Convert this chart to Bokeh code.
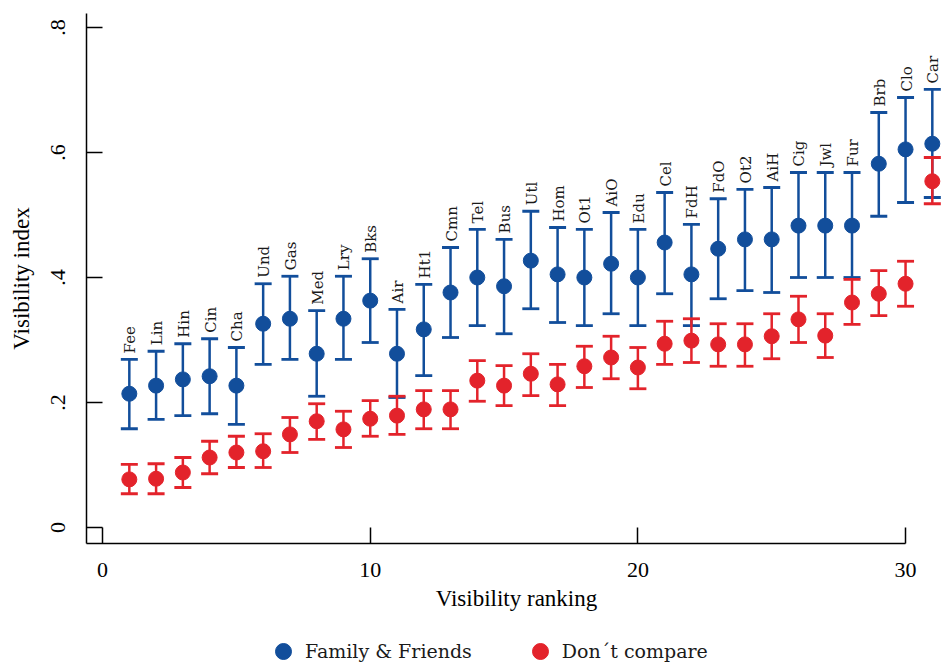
from math import pi
from bokeh.plotting import figure
from bokeh.layouts import column
from bokeh.models import (ColumnDataSource, Range1d, FixedTicker, Legend, LegendItem,
                          CustomJSTickFormatter)
from bokeh.core.properties import value
from bokeh.embed import file_html
from bokeh.resources import INLINE

categories = ["Fee", "Lin", "Hin", "Cin", "Cha", "Und", "Gas", "Med", "Lry", "Bks",
              "Air", "Ht1", "Cmn", "Tel", "Bus", "Utl", "Hom", "Ot1", "AiO", "Edu",
              "Cel", "FdH", "FdO", "Ot2", "AiH", "Cig", "Jwl", "Fur", "Brb", "Clo", "Car"]
ranking = list(range(1, 32))

ff_mean = [0.214, 0.227, 0.237, 0.242, 0.227, 0.326, 0.334, 0.278, 0.334, 0.363,
           0.278, 0.317, 0.376, 0.400, 0.386, 0.427, 0.405, 0.400, 0.422, 0.400,
           0.456, 0.405, 0.446, 0.461, 0.461, 0.483, 0.483, 0.483, 0.582, 0.605, 0.614]
ff_upper = [0.269, 0.282, 0.294, 0.302, 0.288, 0.390, 0.402, 0.347, 0.402, 0.430,
            0.349, 0.389, 0.448, 0.477, 0.461, 0.506, 0.480, 0.477, 0.504, 0.477,
            0.536, 0.485, 0.526, 0.541, 0.544, 0.568, 0.568, 0.568, 0.664, 0.688, 0.701]
ff_lower = [0.158, 0.173, 0.179, 0.182, 0.165, 0.261, 0.269, 0.210, 0.269, 0.296,
            0.208, 0.243, 0.304, 0.323, 0.310, 0.350, 0.328, 0.323, 0.342, 0.323,
            0.374, 0.323, 0.366, 0.379, 0.376, 0.400, 0.400, 0.400, 0.498, 0.520, 0.528]

dc_mean = [0.077, 0.078, 0.088, 0.112, 0.120, 0.122, 0.149, 0.170, 0.157, 0.174,
           0.179, 0.189, 0.189, 0.235, 0.227, 0.246, 0.229, 0.258, 0.272, 0.256,
           0.294, 0.299, 0.293, 0.293, 0.306, 0.333, 0.307, 0.360, 0.374, 0.390, 0.554]
dc_upper = [0.101, 0.102, 0.112, 0.138, 0.146, 0.150, 0.176, 0.198, 0.186, 0.203,
            0.210, 0.219, 0.219, 0.267, 0.259, 0.278, 0.261, 0.290, 0.306, 0.288,
            0.330, 0.334, 0.326, 0.326, 0.342, 0.370, 0.342, 0.397, 0.411, 0.426, 0.592]
dc_lower = [0.054, 0.054, 0.064, 0.086, 0.096, 0.096, 0.120, 0.141, 0.128, 0.146,
            0.149, 0.158, 0.158, 0.202, 0.195, 0.211, 0.195, 0.224, 0.238, 0.222,
            0.261, 0.264, 0.258, 0.258, 0.270, 0.296, 0.272, 0.325, 0.339, 0.354, 0.518]

series_labels = ["Family & Friends", "Don\u00b4t compare"]
x_ticks = [0, 10, 20, 30]
y_ticks = [0, 0.2, 0.4, 0.6, 0.8]

BLUE = "#124e9b"
RED = "#e3232b"
SERIF = "Liberation Serif"
LABEL_FONT = "DejaVu Serif"

p = figure(width=946, height=623, output_backend="svg", toolbar_location=None,
           x_range=Range1d(-0.6, 31.53), y_range=Range1d(-0.0256, 0.8224),
           min_border_left=86, min_border_right=0, min_border_top=13, min_border_bottom=80)
p.outline_line_color = None
p.xgrid.visible = False
p.ygrid.visible = False
p.background_fill_color = "white"
p.border_fill_color = "white"

ff = ColumnDataSource(dict(x=ranking, m=ff_mean, lo=ff_lower, hi=ff_upper, cat=categories))
dc = ColumnDataSource(dict(x=ranking, m=dc_mean, lo=dc_lower, hi=dc_upper))

# Family & Friends
p.segment(x0="x", y0="lo", x1="x", y1="hi", source=ff, line_color=BLUE, line_width=2.5)
p.scatter(x="x", y="hi", source=ff, marker="dash", size=17, line_color=BLUE, line_width=2.8)
p.scatter(x="x", y="lo", source=ff, marker="dash", size=17, line_color=BLUE, line_width=2.8)
p.scatter(x="x", y="m", source=ff, size=15, fill_color=BLUE, line_color=BLUE)
p.text(x="x", y="hi", text="cat", source=ff, angle=pi / 2, text_align="left",
       text_baseline="middle", x_offset=1, y_offset=-6,
       text_font=value(LABEL_FONT), text_font_size="15px", text_color="#1a1a1a")

# Don't compare
p.segment(x0="x", y0="lo", x1="x", y1="hi", source=dc, line_color=RED, line_width=2.5)
p.scatter(x="x", y="hi", source=dc, marker="dash", size=17, line_color=RED, line_width=2.8)
p.scatter(x="x", y="lo", source=dc, marker="dash", size=17, line_color=RED, line_width=2.8)
p.scatter(x="x", y="m", source=dc, size=15, fill_color=RED, line_color=RED)

# Axes
xa = p.xaxis[0]
xa.ticker = FixedTicker(ticks=x_ticks)
xa.bounds = (-0.6, 30)
xa.axis_label = "Visibility ranking"
ya = p.yaxis[0]
ya.ticker = FixedTicker(ticks=y_ticks)
ya.formatter = CustomJSTickFormatter(
    code="if (Math.abs(tick) < 1e-9) { return '0'; } return tick.toFixed(1).replace(/^0/, '');")
ya.axis_label = "Visibility index"
ya.major_label_orientation = "vertical"

for ax in (xa, ya):
    ax.axis_line_color = "black"
    ax.axis_line_width = 1.5
    ax.major_tick_line_color = "black"
    ax.major_tick_line_width = 1.5
    ax.major_tick_in = 16
    ax.major_tick_out = 0
    ax.minor_tick_line_color = None
    ax.major_label_text_font = SERIF
    ax.major_label_text_font_size = "22px"
    ax.major_label_text_color = "black"
    ax.axis_label_text_font = SERIF
    ax.axis_label_text_font_size = "23px"
    ax.axis_label_text_font_style = "normal"
    ax.axis_label_text_color = "black"

xa.major_label_standoff = 19
xa.axis_label_standoff = 6
ya.major_label_standoff = 22
ya.axis_label_standoff = 14

# Legend strip (separate figure underneath the chart); its key glyphs use the
# same data sources, but its ranges keep the points themselves out of view.
lg = figure(width=946, height=43, output_backend="svg", toolbar_location=None,
            x_axis_type=None, y_axis_type=None,
            x_range=Range1d(-100, -99), y_range=Range1d(-100, -99),
            min_border_left=0, min_border_right=0, min_border_top=0, min_border_bottom=0)
lg.outline_line_color = None
lg.xgrid.visible = False
lg.ygrid.visible = False
lg.background_fill_color = "white"
lg.border_fill_color = "white"
ff_key = lg.scatter(x="x", y="m", source=ff, size=15, fill_color=BLUE, line_color=BLUE)
dc_key = lg.scatter(x="x", y="m", source=dc, size=15, fill_color=RED, line_color=RED)

legend = Legend(items=[LegendItem(label=series_labels[0], renderers=[ff_key]),
                       LegendItem(label=series_labels[1], renderers=[dc_key])],
                orientation="horizontal", location=(177, -5))
legend.label_text_font = LABEL_FONT
legend.label_text_font_size = "19px"
legend.label_text_color = "#1a1a1a"
legend.border_line_color = None
legend.background_fill_alpha = 0
legend.glyph_width = 40
legend.glyph_height = 40
legend.label_standoff = 2
legend.spacing = 48
legend.padding = 0
legend.margin = 0
lg.add_layout(legend, "center")

layout = column(p, lg, spacing=0)
open("out.html", "w").write(file_html(layout, INLINE))
